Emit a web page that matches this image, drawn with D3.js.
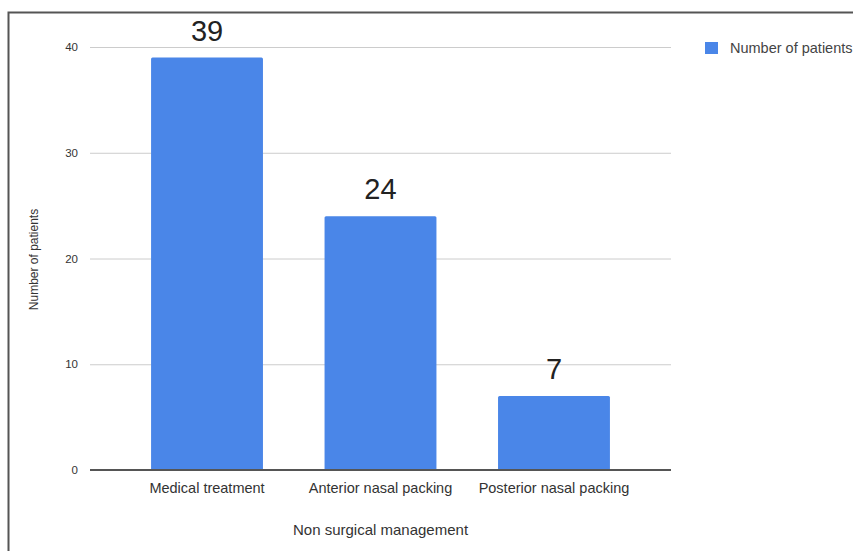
<!DOCTYPE html>
<html>
<head>
<meta charset="utf-8">
<script src="https://cdn.jsdelivr.net/npm/d3@7"></script>
<style>
  html, body { margin: 0; padding: 0; background: #fff; }
  svg { display: block; }
  text { font-family: "Liberation Sans", Arial, sans-serif; }
</style>
</head>
<body>
<svg id="chart" width="853" height="551"></svg>
<script>
// Non surgical management of patients
const categories = ["Medical treatment", "Anterior nasal packing", "Posterior nasal packing"];
const patients = [39, 24, 7];
const yTicks = [0, 10, 20, 30, 40];
const seriesName = "Number of patients";

const svg = d3.select("#chart");
const W = 853, H = 551;
const plot = { left: 90, right: 671, top: 47, bottom: 470 };
const barColor = "#4a86e8";

// frame (top and left edges)
svg.append("path")
  .attr("d", `M8.5,${H} V12.5 H${W}`)
  .attr("fill", "none")
  .attr("stroke", "#555")
  .attr("stroke-width", 2);

const x = d3.scaleBand()
  .domain(categories)
  .range([plot.left, plot.right])
  .paddingInner(0.355)
  .paddingOuter(0.352);

const y = d3.scaleLinear()
  .domain([0, 40])
  .range([plot.bottom, plot.top]);

// gridlines + y tick labels
const yAxis = d3.axisLeft(y)
  .tickValues(yTicks)
  .tickSize(-(plot.right - plot.left))
  .tickPadding(12)
  .tickFormat(d3.format("d"));

const gy = svg.append("g")
  .attr("transform", `translate(${plot.left},0)`)
  .call(yAxis);
gy.select(".domain").remove();
gy.selectAll(".tick line").attr("stroke", "#cccccc").attr("stroke-width", 1);
gy.selectAll(".tick text")
  .attr("fill", "#333")
  .style("font-size", "11.5px");

// bars
svg.append("g").selectAll("rect")
  .data(categories)
  .join("rect")
  .attr("x", d => x(d))
  .attr("width", x.bandwidth())
  .attr("y", (d, i) => y(patients[i]))
  .attr("height", (d, i) => y(0) - y(patients[i]))
  .attr("rx", 1.5)
  .attr("fill", barColor);

// value labels
svg.append("g").selectAll("text")
  .data(categories)
  .join("text")
  .attr("x", d => x(d) + x.bandwidth() / 2)
  .attr("y", (d, i) => y(patients[i]) - 17)
  .attr("text-anchor", "middle")
  .attr("fill", "#222")
  .style("font-size", "29px")
  .text((d, i) => patients[i]);

// baseline + category labels
const xAxis = d3.axisBottom(x).tickSize(0).tickPadding(13);
const gx = svg.append("g")
  .attr("transform", `translate(0,${plot.bottom})`)
  .call(xAxis);
gx.select(".domain").remove();
gx.selectAll(".tick text")
  .attr("fill", "#333")
  .style("font-size", "14.5px");

svg.append("line")
  .attr("x1", plot.left).attr("x2", plot.right)
  .attr("y1", y(0)).attr("y2", y(0))
  .attr("stroke", "#555")
  .attr("stroke-width", 2);

// axis titles
svg.append("text")
  .attr("x", (x(categories[0]) + x(categories[2]) + x.bandwidth()) / 2)
  .attr("y", 535)
  .attr("text-anchor", "middle")
  .attr("fill", "#333")
  .style("font-size", "15px")
  .text("Non surgical management");

svg.append("text")
  .attr("transform", `translate(38,${(plot.top + plot.bottom) / 2 + 1}) rotate(-90)`)
  .attr("text-anchor", "middle")
  .attr("fill", "#333")
  .style("font-size", "12px")
  .text("Number of patients");

// legend
const lg = svg.append("g").attr("transform", "translate(705,42)");
lg.append("rect").attr("width", 13).attr("height", 12).attr("fill", barColor);
lg.append("text")
  .attr("x", 25).attr("y", 11)
  .attr("fill", "#444")
  .style("font-size", "14.5px")
  .text(seriesName);
</script>
</body>
</html>
